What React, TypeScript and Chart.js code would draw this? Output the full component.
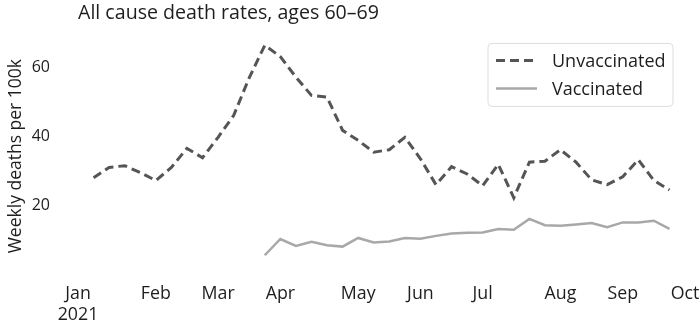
import React, { useEffect, useRef } from "react";
import { Chart, registerables } from "chart.js";

Chart.register(...registerables);

// Week index 0 = week of Jan 8, 2021 (weekly points)
const weekIndex = [
  0, 1, 2, 3, 4, 5, 6, 7, 8, 9, 10, 11, 12, 13, 14, 15, 16, 17, 18, 19,
  20, 21, 22, 23, 24, 25, 26, 27, 28, 29, 30, 31, 32, 33, 34, 35, 36, 37,
];

const unvaccinated = [
  27.5, 30.5, 31.0, 29.0, 26.7, 30.5, 36.0, 33.3, 39.2, 45.5, 56.4, 65.8,
  62.5, 56.6, 51.3, 50.8, 41.2, 38.3, 34.9, 35.6, 39.2, 33.0, 25.5, 30.7,
  28.6, 25.2, 31.4, 21.7, 32.0, 32.3, 35.6, 32.0, 26.9, 25.5, 27.8, 32.7,
  26.7, 24.0,
];

// Vaccinated series begins at week index 11
const vaccinatedStart = 11;
const vaccinated = [
  5.1, 9.8, 7.8, 9.0, 8.0, 7.6, 10.1, 8.8, 9.1, 10.1, 9.9, 10.7, 11.4, 11.6,
  11.7, 12.7, 12.5, 15.6, 13.8, 13.6, 14.0, 14.4, 13.2, 14.6, 14.6, 15.1, 12.7,
];

const monthTickPositions = [-1, 4, 8, 12, 17, 21, 25, 30, 34, 38];
const monthTickLabels: (string | string[])[] = [
  ["Jan", "2021"], "Feb", "Mar", "Apr", "May", "Jun", "Jul", "Aug", "Sep", "Oct",
];
const yTickValues = [20, 40, 60];

const titleText = "All cause death rates, ages 60\u201369";
const yAxisTitle = "Weekly deaths per 100k";
const seriesNames = ["Unvaccinated", "Vaccinated"];

const FONT = "'Open Sans', 'Noto Sans', sans-serif";
const TEXT = "#1e1e1e";
const DARK = "#555555";
const LIGHT = "#a8a8a8";

const titlePlugin = {
  id: "leftTitle",
  afterDraw(chart: any) {
    const { ctx, chartArea } = chart;
    ctx.save();
    ctx.font = `19.6px ${FONT}`;
    ctx.fillStyle = TEXT;
    ctx.textAlign = "left";
    ctx.textBaseline = "alphabetic";
    ctx.fillText(titleText, chartArea.left, 18.5);
    ctx.restore();
  },
};

const legendPlugin = {
  id: "boxLegend",
  afterDraw(chart: any) {
    const { ctx, chartArea } = chart;
    const right = chartArea.right - 12;
    const left = right - 185;
    const top = chartArea.top + 4;
    const height = 63;
    ctx.save();
    ctx.beginPath();
    const r = 4;
    ctx.moveTo(left + r, top);
    ctx.arcTo(right, top, right, top + height, r);
    ctx.arcTo(right, top + height, left, top + height, r);
    ctx.arcTo(left, top + height, left, top, r);
    ctx.arcTo(left, top, right, top, r);
    ctx.closePath();
    ctx.fillStyle = "rgba(255,255,255,0.85)";
    ctx.fill();
    ctx.strokeStyle = "#dddddd";
    ctx.lineWidth = 1;
    ctx.stroke();

    chart.data.datasets.forEach((ds: any, i: number) => {
      const cy = top + 17 + i * 28;
      ctx.beginPath();
      ctx.setLineDash(ds.borderDash || []);
      ctx.strokeStyle = ds.borderColor;
      ctx.lineWidth = ds.borderWidth;
      ctx.moveTo(left + 8, cy);
      ctx.lineTo(left + 49, cy);
      ctx.stroke();
      ctx.setLineDash([]);
      ctx.font = `18px ${FONT}`;
      ctx.fillStyle = TEXT;
      ctx.textAlign = "left";
      ctx.textBaseline = "middle";
      ctx.fillText(ds.label, left + 64, cy + 1.5);
    });
    ctx.restore();
  },
};

export default function App() {
  const ref = useRef<HTMLCanvasElement>(null);
  useEffect(() => {
    document.body.style.margin = "0";
    const unvacData = weekIndex.map((w, i) => ({ x: w, y: unvaccinated[i] }));
    const vacData = vaccinated.map((v, i) => ({ x: weekIndex[vaccinatedStart + i], y: v }));
    const chart = new Chart(ref.current as HTMLCanvasElement, {
      type: "line",
      data: {
        datasets: [
          {
            label: seriesNames[0],
            data: unvacData,
            borderColor: DARK,
            borderWidth: 3,
            borderDash: [9, 5],
            pointRadius: 0,
            tension: 0,
            fill: false,
          },
          {
            label: seriesNames[1],
            data: vacData,
            borderColor: LIGHT,
            borderWidth: 2.5,
            pointRadius: 0,
            tension: 0,
            fill: false,
          },
        ],
      },
      options: {
        responsive: false,
        animation: false,
        devicePixelRatio: 1,
        layout: { padding: { top: 39.4, right: 15, left: 0, bottom: 0 } },
        plugins: {
          legend: { display: false },
          title: { display: false },
          tooltip: { enabled: false },
        },
        scales: {
          x: {
            type: "linear",
            min: -1,
            max: 38,
            grid: { display: false, drawTicks: false },
            border: { display: false },
            afterBuildTicks(scale: any) {
              scale.ticks = monthTickPositions.map((v) => ({ value: v }));
            },
            afterFit(scale: any) {
              scale.height = 325 - 272.9;
              scale.paddingLeft = 0;
              scale.paddingRight = 0;
            },
            ticks: {
              autoSkip: false,
              maxRotation: 0,
              minRotation: 0,
              padding: 10,
              color: TEXT,
              font: { family: FONT, size: 17.8, lineHeight: 1.2 },
              callback: (_v: any, i: number) => monthTickLabels[i],
            },
          },
          y: {
            type: "linear",
            min: 0,
            max: 67.5,
            grid: { display: false, drawTicks: false },
            border: { display: false },
            afterBuildTicks(scale: any) {
              scale.ticks = yTickValues.map((v) => ({ value: v }));
            },
            afterFit(scale: any) {
              scale.width = 78;
              scale.paddingTop = 0;
              scale.paddingBottom = 0;
            },
            ticks: {
              padding: 28,
              labelOffset: 2,
              color: TEXT,
              font: { family: FONT, size: 16 },
            },
            title: {
              display: true,
              text: yAxisTitle,
              color: TEXT,
              font: { family: FONT, size: 17.5 },
              padding: { top: 6, bottom: 0 },
            },
          },
        },
      },
      plugins: [titlePlugin, legendPlugin],
    });
    return () => chart.destroy();
  }, []);
  return (
    <div style={{ width: 700, height: 325, background: "#ffffff" }}>
      <canvas ref={ref} width={700} height={325} />
    </div>
  );
}
